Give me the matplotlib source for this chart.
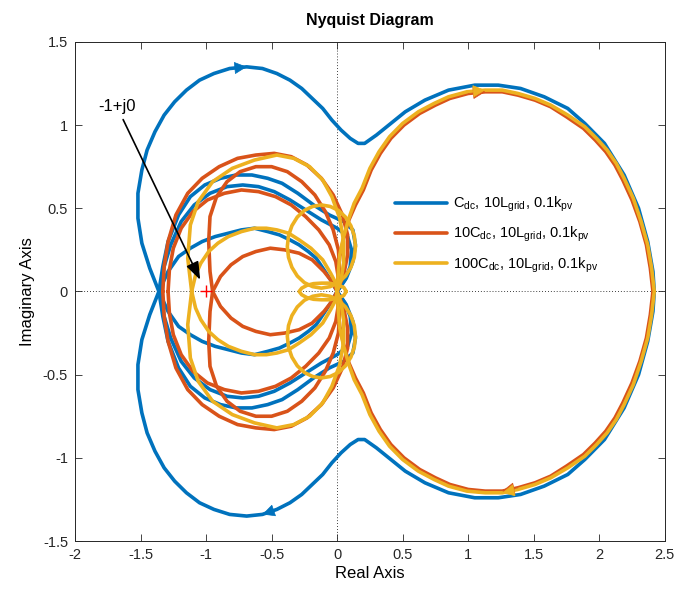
import numpy as np
import matplotlib
matplotlib.use("Agg")
import matplotlib.pyplot as plt

plt.rcParams['font.family'] = ['Liberation Sans', 'DejaVu Sans']
plt.rcParams['mathtext.default'] = 'regular'

# ---- Nyquist branches (upper half-plane; lower half is the conjugate mirror) ----
# Cdc case
blue_outer_x = [-1.36, -1.43, -1.49, -1.52, -1.52, -1.49, -1.45, -1.39, -1.32, -1.24, -1.15, -1.05,
                -0.94, -0.82, -0.69, -0.57, -0.46, -0.36, -0.27, -0.19, -0.11, -0.04, 0.03,
                0.10, 0.16, 0.21, 0.30, 0.41, 0.52, 0.67, 0.85, 1.05, 1.23, 1.40, 1.58, 1.76,
                1.89, 2.04, 2.19, 2.30, 2.37, 2.41, 2.42]
blue_outer_y = [0.00, 0.14, 0.29, 0.44, 0.59, 0.73, 0.85, 0.96, 1.06, 1.14, 1.21, 1.27,
                1.31, 1.34, 1.35, 1.34, 1.31, 1.27, 1.22, 1.16, 1.10, 1.03, 0.97,
                0.92, 0.89, 0.89, 0.94, 1.01, 1.08, 1.15, 1.21, 1.24, 1.24, 1.22, 1.17, 1.10,
                1.01, 0.89, 0.70, 0.50, 0.30, 0.12, 0.00]
blue_loop1_x = [-1.36, -1.33, -1.29, -1.21, -1.12, -1.01, -0.89, -0.77, -0.65, -0.53, -0.42, -0.30,
                -0.18, -0.06, 0.05, 0.12, 0.14, 0.12, 0.07, 0.00]
blue_loop1_y = [0.00, 0.15, 0.30, 0.46, 0.57, 0.64, 0.68, 0.70, 0.70, 0.68, 0.65, 0.59,
                0.52, 0.46, 0.42, 0.37, 0.28, 0.18, 0.08, 0.00]
blue_loop2_x = [-1.35, -1.32, -1.27, -1.19, -1.09, -0.97, -0.84, -0.72, -0.60, -0.48, -0.36, -0.24,
                -0.12, 0.00, 0.08, 0.11, 0.10, 0.06, 0.00]
blue_loop2_y = [0.00, 0.15, 0.28, 0.42, 0.52, 0.59, 0.63, 0.64, 0.63, 0.60, 0.55, 0.49,
                0.43, 0.38, 0.33, 0.25, 0.15, 0.07, 0.00]
blue_lens_x = [-1.36, -1.29, -1.21, -1.12, -1.03, -0.93, -0.83, -0.73, -0.63, -0.53, -0.44, -0.36,
               -0.29, -0.22, -0.16, -0.10, -0.05, 0.00]
blue_lens_y = [0.00, 0.12, 0.21, 0.26, 0.30, 0.33, 0.35, 0.37, 0.38, 0.36, 0.34, 0.31,
               0.28, 0.24, 0.20, 0.13, 0.07, 0.00]

# 10Cdc case
orange_right_x = [0.00, 0.01, 0.02, 0.05, 0.09, 0.14, 0.20, 0.26, 0.33, 0.41, 0.51, 0.63, 0.75, 0.86,
                  1.00, 1.13, 1.26, 1.38, 1.51, 1.63, 1.75, 1.88, 1.97, 2.05, 2.12, 2.18, 2.25, 2.31,
                  2.36, 2.39, 2.41]
orange_right_y = [0.00, 0.12, 0.21, 0.32, 0.43, 0.52, 0.61, 0.73, 0.83, 0.92, 1.00, 1.07, 1.12, 1.16,
                  1.19, 1.20, 1.20, 1.18, 1.15, 1.11, 1.05, 0.98, 0.91, 0.84, 0.76, 0.67, 0.55, 0.42,
                  0.28, 0.14, 0.00]
orange_loopA_x = [-1.33, -1.32, -1.29, -1.23, -1.14, -1.03, -0.90, -0.76, -0.62, -0.48, -0.35, -0.23,
                  -0.12, -0.03, 0.04, 0.08, 0.08, 0.05, 0.00]
orange_loopA_y = [0.00, 0.15, 0.30, 0.46, 0.59, 0.68, 0.75, 0.80, 0.82, 0.83, 0.81, 0.76,
                  0.68, 0.58, 0.46, 0.34, 0.22, 0.10, 0.00]
orange_loopB_x = [-1.29, -1.28, -1.25, -1.19, -1.10, -0.99, -0.86, -0.73, -0.60, -0.47, -0.35, -0.24,
                  -0.14, -0.06, -0.01, 0.01, 0.00]
orange_loopB_y = [0.00, 0.13, 0.26, 0.38, 0.48, 0.55, 0.59, 0.61, 0.60, 0.57, 0.52, 0.45,
                  0.37, 0.28, 0.18, 0.08, 0.00]
orange_loopC_x = [-0.95, -0.97, -0.98, -0.97, -0.92, -0.84, -0.74, -0.62, -0.50, -0.38, -0.27, -0.17,
                  -0.09, -0.03, 0.01, 0.02, 0.00]
orange_loopC_y = [0.00, 0.12, 0.30, 0.45, 0.57, 0.66, 0.72, 0.75, 0.75, 0.72, 0.66, 0.58,
                  0.48, 0.37, 0.25, 0.12, 0.00]
orange_inner_x = [-0.95, -0.89, -0.81, -0.72, -0.62, -0.51, -0.40, -0.29, -0.19, -0.10, -0.04, 0.00]
orange_inner_y = [0.00, 0.09, 0.16, 0.21, 0.24, 0.26, 0.25, 0.23, 0.19, 0.12, 0.06, 0.00]

# 100Cdc case
yellow_right_x = [0.00, 0.01, 0.02, 0.05, 0.09, 0.13, 0.19, 0.25, 0.32, 0.40, 0.50, 0.62, 0.74, 0.85,
                  0.99, 1.13, 1.26, 1.38, 1.51, 1.63, 1.76, 1.89, 1.98, 2.06, 2.13, 2.19, 2.26, 2.32,
                  2.37, 2.40, 2.42]
yellow_right_y = [0.00, 0.12, 0.22, 0.33, 0.44, 0.53, 0.62, 0.74, 0.84, 0.93, 1.01, 1.08, 1.13, 1.17,
                  1.20, 1.21, 1.21, 1.19, 1.16, 1.12, 1.06, 0.99, 0.92, 0.85, 0.77, 0.68, 0.56, 0.42,
                  0.28, 0.14, 0.00]
yellow_outer_x = [-1.11, -1.14, -1.12, -1.06, -0.95, -0.80, -0.63, -0.46, -0.33, -0.21, -0.11, -0.04,
                  0.02, 0.05, 0.05, 0.03, 0.00]
yellow_outer_y = [0.00, 0.20, 0.40, 0.54, 0.66, 0.74, 0.79, 0.82, 0.80, 0.75, 0.67, 0.57,
                  0.44, 0.30, 0.17, 0.07, 0.00]
yellow_inner_x = [-1.11, -1.08, -1.04, -0.98, -0.91, -0.83, -0.73, -0.63, -0.54, -0.46, -0.37, -0.29,
                  -0.20, -0.11, -0.05, -0.01, 0.00]
yellow_inner_y = [0.00, 0.10, 0.17, 0.24, 0.29, 0.33, 0.36, 0.38, 0.38, 0.37, 0.35, 0.31,
                  0.26, 0.19, 0.11, 0.05, 0.00]
yellow_circle_x = [0.140, 0.131, 0.105, 0.064, 0.010, -0.053, -0.120, -0.187, -0.250, -0.304, -0.345,
                   -0.371, -0.380, -0.371, -0.345, -0.304, -0.250, -0.187, -0.120, -0.053, 0.010,
                   0.064, 0.105, 0.131, 0.140]
yellow_circle_y = [0.270, 0.335, 0.395, 0.447, 0.487, 0.511, 0.520, 0.511, 0.487, 0.447, 0.395,
                   0.335, 0.270, 0.205, 0.145, 0.093, 0.053, 0.029, 0.020, 0.029, 0.053,
                   0.093, 0.145, 0.205, 0.270]
yellow_small_x = [0.07, 0.05, 0.00, -0.06, -0.12, -0.18, -0.23, -0.27, -0.29]
yellow_small_y = [0.00, 0.025, 0.04, 0.05, 0.05, 0.047, 0.037, 0.02, 0.00]

critical_point = (-1.0, 0.0)
legend_labels = [r'C$_{dc}$, 10L$_{grid}$, 0.1k$_{pv}$',
                 r'10C$_{dc}$, 10L$_{grid}$, 0.1k$_{pv}$',
                 r'100C$_{dc}$, 10L$_{grid}$, 0.1k$_{pv}$']
x_ticks = [-2, -1.5, -1, -0.5, 0, 0.5, 1, 1.5, 2, 2.5]
y_ticks = [-1.5, -1, -0.5, 0, 0.5, 1, 1.5]

BLUE = '#0072BD'
ORANGE = '#D95319'
YELLOW = '#EDB120'
AX_COLOR = '#262626'
LW = 2.6
LINE_KW = dict(lw=LW, solid_joinstyle='round', solid_capstyle='round')


def mirrored(xs, ys):
    """Join an upper-half branch with its conjugate mirror into one closed path."""
    xs = np.asarray(xs, float)
    ys = np.asarray(ys, float)
    return np.concatenate([xs, xs[::-1]]), np.concatenate([ys, -ys[::-1]])


def arrow_on(ax, xs, ys, i, color, flip=False):
    """Filled arrowhead on vertex i of a branch, pointing along the path."""
    xs = np.asarray(xs, float)
    ys = np.asarray(ys, float)
    if flip:
        p0, p1 = (xs[i + 1], -ys[i + 1]), (xs[i], -ys[i])
    else:
        p0, p1 = (xs[i - 1], ys[i - 1]), (xs[i], ys[i])
    ax.annotate('', xy=p1, xytext=p0,
                arrowprops=dict(arrowstyle='-|>,head_length=0.5,head_width=0.25',
                                color=color, lw=0.5, mutation_scale=16,
                                shrinkA=0, shrinkB=0),
                zorder=6)


fig = plt.figure(figsize=(6.79, 5.90), dpi=100)
ax = fig.add_axes([0.1105, 0.083, 0.8685, 0.846])

ax.axhline(0, color='black', lw=0.6, ls=(0, (1, 2.5)), zorder=1)
ax.axvline(0, color='black', lw=0.6, ls=(0, (1, 2.5)), zorder=1)

# blue
h_blue, = ax.plot(*mirrored(blue_outer_x, blue_outer_y), color=BLUE, zorder=2, **LINE_KW)
for bx, by in [(blue_loop1_x, blue_loop1_y), (blue_loop2_x, blue_loop2_y), (blue_lens_x, blue_lens_y)]:
    ax.plot(*mirrored(bx, by), color=BLUE, zorder=2, **LINE_KW)

# orange
h_orange, = ax.plot(*mirrored(orange_right_x, orange_right_y), color=ORANGE, zorder=3, **LINE_KW)
for ox, oy in [(orange_loopA_x, orange_loopA_y), (orange_loopB_x, orange_loopB_y),
               (orange_loopC_x, orange_loopC_y), (orange_inner_x, orange_inner_y)]:
    ax.plot(*mirrored(ox, oy), color=ORANGE, zorder=3, **LINE_KW)

# yellow
h_yellow, = ax.plot(*mirrored(yellow_right_x, yellow_right_y), color=YELLOW, zorder=4, **LINE_KW)
for yx, yy in [(yellow_outer_x, yellow_outer_y), (yellow_inner_x, yellow_inner_y),
               (yellow_small_x, yellow_small_y)]:
    ax.plot(*mirrored(yx, yy), color=YELLOW, zorder=4, **LINE_KW)
ax.plot(yellow_circle_x, yellow_circle_y, color=YELLOW, zorder=4, **LINE_KW)
ax.plot(yellow_circle_x, -np.asarray(yellow_circle_y), color=YELLOW, zorder=4, **LINE_KW)

# direction arrows
arrow_on(ax, blue_outer_x, blue_outer_y, 14, BLUE)
arrow_on(ax, blue_outer_x, blue_outer_y, 15, BLUE, flip=True)
arrow_on(ax, orange_right_x, orange_right_y, 15, ORANGE)
arrow_on(ax, orange_right_x, orange_right_y, 16, ORANGE, flip=True)
arrow_on(ax, yellow_right_x, yellow_right_y, 15, YELLOW)
arrow_on(ax, yellow_right_x, yellow_right_y, 16, YELLOW, flip=True)

# critical point and its annotation
ax.plot(*critical_point, marker='+', color='red', ms=8, mew=1.0, zorder=7)
ax.annotate('-1+j0', xy=(-1.045, 0.07), xytext=(-1.68, 1.11),
            fontsize=12, ha='center', va='center', color='black',
            arrowprops=dict(arrowstyle='-|>,head_length=0.6,head_width=0.22', color='black',
                            lw=1.2, mutation_scale=18, shrinkA=2, shrinkB=0),
            zorder=8)

ax.set_xlim(-2, 2.5)
ax.set_ylim(-1.5, 1.5)
ax.set_xticks(x_ticks)
ax.set_yticks(y_ticks)
ax.set_xticklabels([f'{t:g}' for t in x_ticks])
ax.set_yticklabels([f'{t:g}' for t in y_ticks])
ax.tick_params(direction='in', top=True, right=True, length=5, width=0.6,
               colors=AX_COLOR, labelsize=10.5, pad=5)
for sp in ax.spines.values():
    sp.set_color(AX_COLOR)
    sp.set_linewidth(0.7)

ax.set_title('Nyquist Diagram', fontsize=11.5, fontweight='bold', pad=12)
ax.set_xlabel('Real Axis', fontsize=12, color='black', labelpad=3)
ax.set_ylabel('Imaginary Axis', fontsize=12, color='black', labelpad=6)

leg = ax.legend([h_blue, h_orange, h_yellow], legend_labels, loc='upper left',
                bbox_to_anchor=(0.52, 0.72), frameon=False, fontsize=10.5,
                handlelength=3.6, handletextpad=0.4, labelspacing=0.75)

fig.savefig('out.png', dpi=100)
